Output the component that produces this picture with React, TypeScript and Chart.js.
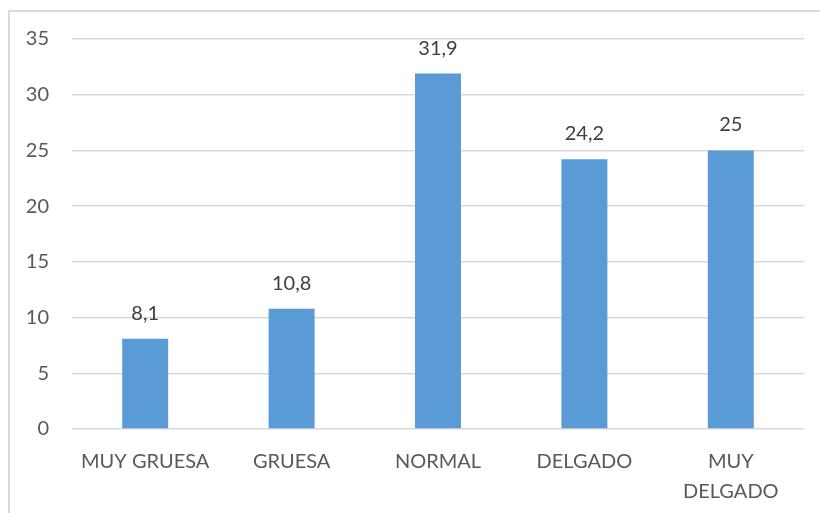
import React, { useEffect, useRef } from "react";
import { Chart, registerables } from "chart.js";

Chart.register(...registerables);

const categories: (string | string[])[] = ["MUY GRUESA", "GRUESA", "NORMAL", "DELGADO", ["MUY", "DELGADO"]];
const values: number[] = [8.1, 10.8, 31.9, 24.2, 25];
const yTicks: number[] = [0, 5, 10, 15, 20, 25, 30, 35];

const FONT = "Lato, 'Open Sans', sans-serif";

const valueLabels = {
  id: "valueLabels",
  afterDatasetsDraw(chart: any) {
    const ctx = chart.ctx;
    const meta = chart.getDatasetMeta(0);
    ctx.save();
    ctx.font = `20px ${FONT}`;
    ctx.fillStyle = "#404040";
    ctx.textAlign = "center";
    ctx.textBaseline = "alphabetic";
    meta.data.forEach((bar: any, i: number) => {
      const v = values[i];
      ctx.fillText(String(v).replace(".", ","), bar.x, bar.y - 19);
    });
    ctx.restore();
  },
};

export default function App() {
  const ref = useRef<HTMLCanvasElement>(null);
  useEffect(() => {
    if (!ref.current) return;
    const chart = new Chart(ref.current, {
      type: "bar",
      data: {
        labels: categories,
        datasets: [
          {
            data: values,
            backgroundColor: "#5B9BD5",
            borderWidth: 0,
            categoryPercentage: 1,
            barPercentage: 0.314,
          },
        ],
      },
      options: {
        animation: false,
        responsive: false,
        maintainAspectRatio: false,
        layout: { padding: { top: 39, left: 0, right: 16, bottom: 0 } },
        plugins: { legend: { display: false }, tooltip: { enabled: false } },
        scales: {
          x: {
            grid: { display: false, drawTicks: false },
            border: { display: false },
            ticks: {
              color: "#595959",
              font: { family: FONT, size: 20, lineHeight: 1.5 },
              padding: 18,
              maxRotation: 0,
              autoSkip: false,
            },
            afterFit: (s: any) => {
              s.height = 84;
            },
          },
          y: {
            min: 0,
            max: 35,
            afterBuildTicks: (s: any) => {
              s.ticks = yTicks.map((v) => ({ value: v }));
            },
            grid: { color: "#d9d9d9", lineWidth: 1.5, drawTicks: false },
            border: { display: false },
            ticks: {
              color: "#595959",
              font: { family: FONT, size: 20 },
              padding: 23,
            },
            afterFit: (s: any) => {
              s.width = 72;
            },
          },
        },
      },
      plugins: [valueLabels],
    });
    return () => chart.destroy();
  }, []);

  return (
    <div style={{ position: "fixed", left: 0, top: 0, width: 820, height: 513, background: "#fff" }}>
      <div
        style={{
          position: "absolute",
          left: 8,
          top: 10,
          width: 830,
          height: 520,
          borderTop: "2px solid #d9d9d9",
          borderLeft: "2px solid #d9d9d9",
        }}
      />
      <canvas ref={ref} width={820} height={513} style={{ position: "absolute", left: 0, top: 0 }} />
    </div>
  );
}
